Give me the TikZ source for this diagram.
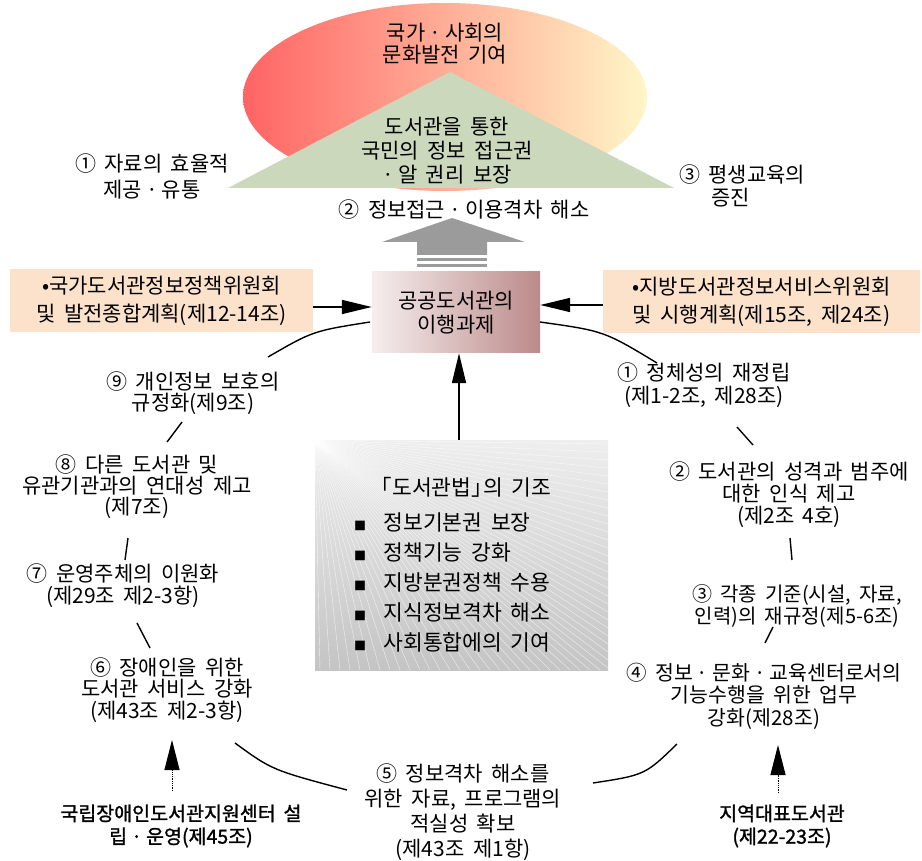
\documentclass[tikz,border=0pt]{standalone}
\usepackage{fontspec}
\setmainfont[WordSpace=1.8]{Noto Sans CJK KR}
\newfontfamily\krbold[FakeBold=1.3,WordSpace=1.8]{Noto Sans CJK KR}
\usetikzlibrary{arrows.meta,shapes.geometric}
\definecolor{peach}{RGB}{253,226,203}
\definecolor{trigreen}{RGB}{203,216,187}
\definecolor{ellred}{RGB}{255,100,100}
\definecolor{ellmid}{RGB}{255,172,145}
\definecolor{ellyel}{RGB}{255,246,200}
\definecolor{boxl}{RGB}{246,238,238}
\definecolor{boxr}{RGB}{188,138,138}
\definecolor{arrgray}{RGB}{155,155,155}
\definecolor{lawtop}{RGB}{238,238,238}
\definecolor{lawbot}{RGB}{196,196,196}
\newcommand{\sqb}{{\fontsize{12}{12}\selectfont ■}}
\newcommand{\mdt}{\hspace{4pt}·\hspace{4pt}}
\begin{document}
\begin{tikzpicture}[x=1pt,y=-1pt,
  lbl/.style={align=center, inner sep=0pt, font=\fontsize{21}{23}\selectfont},
  conn/.style={line width=1.6pt, -{Triangle[length=30pt,width=14pt]}},
  headonly/.style={line width=1pt, -{Triangle[length=30pt,width=15pt]}},
  cyc/.style={line width=1.4pt},
  peachbox/.style={fill=peach, minimum width=#1, minimum height=63pt, align=center, inner sep=0pt}]
\useasboundingbox[fill=white] (0,0) rectangle (922,861);

% goal ellipse and triangle
\node[ellipse, minimum width=404pt, minimum height=188pt, inner sep=0pt,
      left color=ellred, middle color=ellmid, right color=ellyel] (goal) at (445,97) {};
\fill[trigreen] (450,72) -- (674,188) -- (228,188) -- cycle;
\node[lbl, font=\fontsize{21}{22}\selectfont] (goaltxt) at (445,44) {국가\mdt 사회의\\문화발전 기여};
\node[lbl, font=\fontsize{21}{24}\selectfont] (tritxt) at (447,151) {도서관을 통한\\국민의 정보 접근권\\·\hspace{4pt}알 권리 보장};
\node[lbl, font=\fontsize{21}{26}\selectfont] (aim1) at (152,176) {① 자료의 효율적\\제공\mdt 유통};
\node[lbl, align=left, anchor=west] (aim3) at (679,186) {③ 평생교육의\\\hspace*{32pt}증진};
\node[lbl] (aim2) at (464,210) {② 정보접근\mdt 이용격차 해소};

% big gray arrow
\fill[arrgray] (452,218) -- (525,242) -- (487,242) -- (487,255) -- (417,255) -- (417,242) -- (382,242) -- cycle;
\fill[arrgray] (417,258) rectangle (487,261);
\fill[arrgray] (417,264) rectangle (487,267);

% boxes
\node[peachbox=303pt, font=\fontsize{21}{28}\selectfont] (natl) at (161.5,300.5) {•국가도서관정보정책위원회\\및 발전종합계획(제12-14조)};
\node[peachbox=317pt, font=\fontsize{21}{28}\selectfont] (locl) at (761.5,302) {•지방도서관정보서비스위원회\\및 시행계획(제15조, 제24조)};
\node[left color=boxl, right color=boxr, minimum width=168pt, minimum height=81pt, inner sep=0pt,
      align=center, font=\fontsize{21}{23.5}\selectfont] (task) at (456,312.5) {공공도서관의\\이행과제};

\draw[conn] ([yshift=-6.5pt]natl.east) -- ([yshift=-6.5pt]natl.east -| task.west);
\draw[conn] ([yshift=-3pt]locl.west) -- ([yshift=-3pt]locl.west -| task.east);

% law box
\node[top color=lawtop, bottom color=lawbot, minimum width=293pt, minimum height=230pt, inner sep=0pt] (law) at (461.5,555) {};
\begin{scope}
  \clip (315,440) rectangle (608,670);
  \foreach \yy in {444,452,...,670} \draw[white, line width=0.4pt, opacity=0.7] (315,440) -- (608,\yy);
  \foreach \xx in {320,330,...,608} \draw[white, line width=0.4pt, opacity=0.7] (315,440) -- (\xx,670);
\end{scope}
\draw[conn] (law.north -| 459,0) -- (task.south -| 459,0);
\node[lbl, font=\fontsize{21.5}{24}\selectfont] (lawtitle) at (461,487) {「도서관법」\kern-0.45em의 기조};
\node[lbl, align=left, anchor=west, font=\fontsize{21.5}{29.8}\selectfont] (lawlist) at (354,582.5)
  {\sqb\ \ 정보기본권 보장\\\sqb\ \ 정책기능 강화\\\sqb\ \ 지방분권정책 수용\\\sqb\ \ 지식정보격차 해소\\\sqb\ \ 사회통합에의 기여};

% cycle labels
\node[lbl] (r1) at (704,385) {① 정체성의 재정립\\(제1-2조, 제28조)};
\node[lbl, font=\fontsize{21}{22}\selectfont] (r2) at (789,495) {② 도서관의 성격과 범주에\\대한 인식 제고\\(제2조 4호)};
\node[lbl, font=\fontsize{20}{22}\selectfont] (r3) at (797,606) {③ 각종 기준(시설, 자료,\\인력)의 재규정(제5-6조)};
\node[lbl, font=\fontsize{20.5}{22.5}\selectfont] (r4) at (764,696) {④ 정보\mdt 문화\mdt 교육센터로서의\\기능수행을 위한 업무\\강화(제28조)};
\node[lbl, font=\fontsize{21}{25}\selectfont] (c5) at (463,812) {⑤ 정보격차 해소를\\위한 자료, 프로그램의\\적실성 확보\\(제43조 제1항)};
\node[lbl, font=\fontsize{21}{21.5}\selectfont] (l6) at (167,690) {⑥ 장애인을 위한\\도서관 서비스 강화\\(제43조 제2-3항)};
\node[lbl, font=\fontsize{21}{22}\selectfont] (l7) at (123,586) {⑦ 운영주체의 이원화\\(제29조 제2-3항)};
\node[lbl, font=\fontsize{21}{21}\selectfont] (l8) at (137,487) {⑧ 다른 도서관 및\\유관기관과의 연대성 제고\\(제7조)};
\node[lbl, font=\fontsize{21}{21.5}\selectfont] (l9) at (193,393) {⑨ 개인정보 보호의\\규정화(제9조)};

% cycle segments
\draw[cyc] (268,357) .. controls (313,331) .. (370,322);
\draw[cyc] (540,322) .. controls (604,331) .. (657,363);
\draw[cyc] (737,427) -- (753,445);
\draw[cyc] (790,538) -- (792,560);
\draw[cyc] (773,627) -- (765,643);
\draw[cyc] (677,744) .. controls (645,775) .. (593,783);
\draw[cyc] (347,790) .. controls (272,770) .. (235,743);
\draw[cyc] (150,648) -- (137,623);
\draw[cyc] (128,538) -- (125,560);
\draw[cyc] (167,442) -- (182,422);

% bottom notes
\node[lbl, font=\krbold\fontsize{19.5}{23}\selectfont] (ncl) at (181,826) {국립장애인도서관지원센터 설\\립\mdt 운영(제45조)};
\node[lbl, font=\krbold\fontsize{19.5}{23}\selectfont] (rep) at (782,826) {지역대표도서관\\(제22-23조)};
\coordinate (hb1) at (172,770);
\coordinate (tip1) at (172,740);
\coordinate (hb2) at (778,775);
\coordinate (tip2) at (778,745);
\draw[densely dotted, line width=0.8pt] (hb1 |- 0,791) -- (hb1);
\draw[headonly] (hb1) -- (tip1);
\draw[densely dotted, line width=0.8pt] (hb2 |- 0,793) -- (hb2);
\draw[headonly] (hb2) -- (tip2);
\end{tikzpicture}
\end{document}
